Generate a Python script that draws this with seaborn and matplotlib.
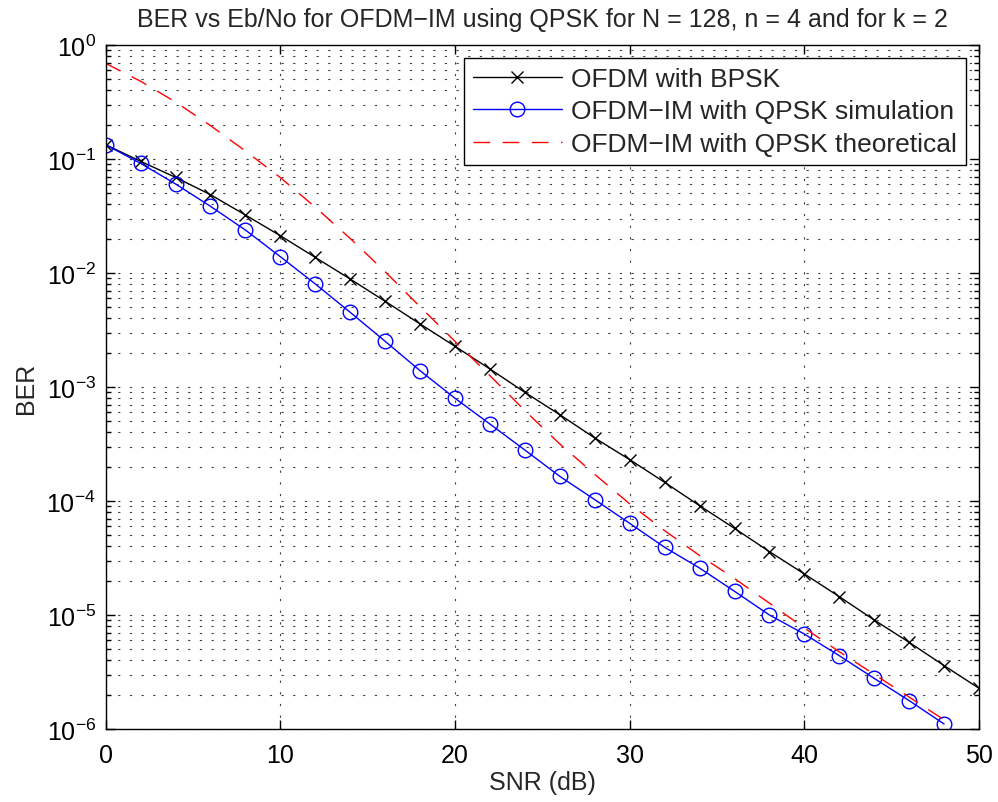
import numpy as np
import pandas as pd
import matplotlib
matplotlib.use("Agg")
import matplotlib.pyplot as plt
import seaborn as sns

# ---- data ----
snr_bpsk = [0, 2, 4, 6, 8, 10, 12, 14, 16, 18, 20, 22, 24, 26, 28, 30, 32, 34, 36, 38, 40, 42, 44, 46, 48, 50]
log_ber_bpsk = [-0.875, -1.020, -1.161, -1.313, -1.491, -1.673, -1.863, -2.053, -2.248, -2.447,
                -2.643, -2.842, -3.047, -3.243, -3.447, -3.637, -3.836, -4.041, -4.240, -4.444,
                -4.640, -4.839, -5.044, -5.240, -5.444, -5.643]

snr_im = [0, 2, 4, 6, 8, 10, 12, 14, 16, 18, 20, 22, 24, 26, 28, 30, 32, 34, 36, 38, 40, 42, 44, 46, 48]
log_ber_im_sim = [-0.875, -1.038, -1.219, -1.415, -1.623, -1.857, -2.096, -2.345, -2.599, -2.857,
                  -3.099, -3.325, -3.553, -3.784, -3.988, -4.196, -4.406, -4.588, -4.792, -5.000,
                  -5.167, -5.357, -5.556, -5.751, -5.956]
log_ber_im_th = [-0.161, -0.318, -0.500, -0.707, -0.930, -1.163, -1.423, -1.697, -1.989, -2.296,
                 -2.600, -2.901, -3.207, -3.500, -3.766, -4.025, -4.260, -4.478, -4.680, -4.896,
                 -5.114, -5.322, -5.520, -5.720, -5.920]

ber_bpsk = [10 ** v for v in log_ber_bpsk]
ber_im_sim = [10 ** v for v in log_ber_im_sim]
ber_im_th = [10 ** v for v in log_ber_im_th]

x_ticks = [0, 10, 20, 30, 40, 50]
y_ticks = [1e-6, 1e-5, 1e-4, 1e-3, 1e-2, 1e-1, 1e0]

labels = ["OFDM with BPSK", "OFDM\u2212IM with QPSK simulation", "OFDM\u2212IM with QPSK theoretical"]
title = "BER vs Eb/No for OFDM\u2212IM using QPSK for N = 128, n = 4 and for k = 2"

# ---- style ----
sns.set_style("ticks")
plt.rcParams["font.family"] = ["Liberation Sans", "DejaVu Sans"]
plt.rcParams["mathtext.fontset"] = "custom"
plt.rcParams["mathtext.rm"] = "Liberation Sans"
plt.rcParams["mathtext.it"] = "Liberation Sans:italic"
plt.rcParams["mathtext.bf"] = "Liberation Sans:bold"
FS = 18
LFS = 19

fig = plt.figure(figsize=(9.98, 8.03), dpi=100)
ax = fig.add_axes([0.1059, 0.0909, 0.981 - 0.1059, 0.9427 - 0.0909])

df1 = pd.DataFrame({"snr": snr_bpsk, "ber": ber_bpsk})
df2 = pd.DataFrame({"snr": snr_im, "ber": ber_im_sim})
df3 = pd.DataFrame({"snr": snr_im, "ber": ber_im_th})

sns.lineplot(data=df1, x="snr", y="ber", ax=ax, color="black", lw=1.0, marker="x",
             markersize=9, markeredgewidth=1.0, markeredgecolor="black",
             label=labels[0], sort=False)
sns.lineplot(data=df2, x="snr", y="ber", ax=ax, color="#0000ff", lw=1.0, marker="o",
             markersize=10.5, markerfacecolor="none", markeredgecolor="#0000ff",
             markeredgewidth=1.0, label=labels[1], sort=False)
sns.lineplot(data=df3, x="snr", y="ber", ax=ax, color="#ff0000", lw=1.0,
             linestyle=(0, (12, 9)), label=labels[2], sort=False)

ax.set_yscale("log")
ax.set_xlim(0, 50)
ax.set_xticks(x_ticks)
ax.set_yticks(y_ticks)
ax.yaxis.set_minor_locator(matplotlib.ticker.LogLocator(base=10, subs=np.arange(2, 10), numticks=20))
ax.yaxis.set_minor_formatter(matplotlib.ticker.NullFormatter())
ax.set_ylim(1e-6, 1e0)

grid_kw = dict(color="0.25", lw=0.8, linestyle=(0, (2, 8.5)))
ax.grid(True, which="major", axis="both", **grid_kw)
ax.grid(True, which="minor", axis="y", **grid_kw)
ax.set_axisbelow(True)

for s in ax.spines.values():
    s.set_visible(True)
    s.set_linewidth(1.0)
    s.set_color("black")

ax.tick_params(which="both", direction="in", top=True, right=True, colors="black",
               labelsize=FS, width=1.0)
ax.tick_params(which="major", length=6.5)
ax.tick_params(which="minor", length=3.5)
ax.tick_params(axis="x", pad=10)
ax.tick_params(axis="y", pad=7)

ax.set_xlabel("SNR (dB)", fontsize=FS, labelpad=2)
ax.set_ylabel("BER", fontsize=FS, labelpad=6)
ax.set_title(title, fontsize=FS, pad=14)

leg = ax.legend(loc="upper right", fontsize=LFS, frameon=True, fancybox=False,
                edgecolor="black", framealpha=1.0, handlelength=3.4,
                handletextpad=0.34, borderaxespad=0.5, borderpad=0.33, labelspacing=0.32)
leg.get_frame().set_linewidth(1.0)

fig.savefig("out.png", dpi=100)
